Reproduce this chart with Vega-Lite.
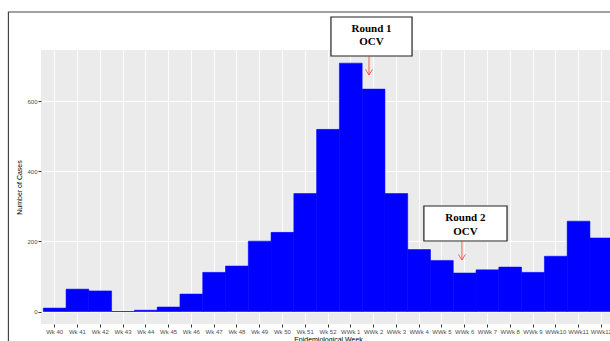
{
  "$schema": "https://vega.github.io/schema/vega-lite/v6.json",
  "autosize": "none",
  "width": 574,
  "height": 274,
  "padding": {"left": 41, "top": 50, "right": 0, "bottom": 20},
  "background": "white",
  "config": {
    "view": {"fill": "#EBEBEB", "stroke": null},
    "font": "Liberation Sans",
    "axis": {"domain": false, "labelFont": "Liberation Sans", "titleFont": "Liberation Sans", "labelColor": "#4D4D4D", "labelFontSize": 6, "titleFontSize": 7, "titleFontWeight": "normal", "titleColor": "#000000", "tickColor": "#333333", "tickSize": 3, "gridColor": "#FFFFFF"}
  },
  "datasets": {
    "weeks": [
      {"week": "Wk 40", "cases": 10},
      {"week": "Wk 41", "cases": 64},
      {"week": "Wk 42", "cases": 59},
      {"week": "Wk 43", "cases": 0},
      {"week": "Wk 44", "cases": 4},
      {"week": "Wk 45", "cases": 13},
      {"week": "Wk 46", "cases": 50},
      {"week": "Wk 47", "cases": 112},
      {"week": "Wk 48", "cases": 130},
      {"week": "Wk 49", "cases": 201},
      {"week": "Wk 50", "cases": 226},
      {"week": "Wk 51", "cases": 337},
      {"week": "Wk 52", "cases": 520},
      {"week": "WWk 1", "cases": 709},
      {"week": "WWk 2", "cases": 635},
      {"week": "WWk 3", "cases": 337},
      {"week": "WWk 4", "cases": 177},
      {"week": "WWk 5", "cases": 146},
      {"week": "WWk 6", "cases": 110},
      {"week": "WWk 7", "cases": 119},
      {"week": "WWk 8", "cases": 127},
      {"week": "WWk 9", "cases": 112},
      {"week": "WWk10", "cases": 158},
      {"week": "WWk11", "cases": 258},
      {"week": "WWk12", "cases": 210}
    ],
    "boxes": [
      {"round": "Round 1", "x1": 12.13, "x2": 15.69, "y1": 729.4, "y2": 840.7},
      {"round": "Round 2", "x1": 16.21, "x2": 19.86, "y1": 201.4, "y2": 301.3}
    ],
    "labels": [
      {"text": "Round 1", "x": 13.91, "y": 806.4},
      {"text": "OCV", "x": 13.91, "y": 769.3},
      {"text": "Round 2", "x": 18.03, "y": 267.0},
      {"text": "OCV", "x": 18.03, "y": 227.1}
    ],
    "arrows": [
      {"round": "Round 1", "x": 13.8, "y1": 729.4, "y2": 675.1},
      {"round": "Round 2", "x": 17.88, "y1": 201.4, "y2": 147.2}
    ],
    "frame": [
      {"x1": -2.03, "x2": 30, "y1": -300, "y2": 855}
    ]
  },
  "resolve": {"scale": {"x": "independent"}, "axis": {"x": "independent"}},
  "layer": [
    {
      "data": {"name": "weeks"},
      "mark": {"type": "bar", "fill": "#0000FF", "stroke": "#FFFFFF", "strokeWidth": 1.5},
      "encoding": {
        "x": {"field": "week", "type": "nominal", "sort": null,
              "scale": {"paddingInner": 0, "paddingOuter": 0.1},
              "axis": {"title": "Epidemiological Week", "labelAngle": 0, "labelPadding": 1, "titlePadding": 1, "grid": true, "gridWidth": 0.9, "bandPosition": 0.5}},
        "y": {"field": "cases", "type": "quantitative",
              "scale": {"domain": [-35.5, 746.5], "nice": false, "zero": false},
              "axis": {"title": "Number of Cases", "values": [0, 100, 200, 300, 400, 500, 600, 700],
                       "labelExpr": "datum.value % 200 === 0 ? datum.label : ''",
                       "gridWidth": {"condition": {"test": "datum.value % 200 === 0", "value": 1}, "value": 0.5},
                       "tickOpacity": {"condition": {"test": "datum.value % 200 === 0", "value": 1}, "value": 0},
                       "labelPadding": 1, "titlePadding": 4}}
      }
    },
    {
      "data": {"name": "weeks"},
      "mark": {"type": "bar", "fill": "#0000FF", "stroke": "#0000FF", "strokeWidth": 0.6},
      "encoding": {
        "x": {"field": "week", "type": "nominal", "sort": null,
              "scale": {"paddingInner": 0, "paddingOuter": 0.1}, "axis": null},
        "y": {"field": "cases", "type": "quantitative", "title": "Number of Cases"}
      }
    },
    {
      "data": {"name": "frame"},
      "mark": {"type": "rect", "fill": null, "fillOpacity": 0, "stroke": "#444444", "strokeWidth": 1.2},
      "encoding": {
        "x": {"field": "x1", "type": "quantitative", "scale": {"domain": [-0.6, 24.6], "nice": false, "zero": false}, "axis": null},
        "x2": {"field": "x2"},
        "y": {"field": "y1", "type": "quantitative", "title": "Number of Cases"},
        "y2": {"field": "y2"}
      }
    },
    {
      "data": {"name": "boxes"},
      "mark": {"type": "rect", "fill": "#FFFFFF", "stroke": "#222222", "strokeWidth": 1.2},
      "encoding": {
        "x": {"field": "x1", "type": "quantitative", "scale": {"domain": [-0.6, 24.6], "nice": false, "zero": false}, "axis": null},
        "x2": {"field": "x2"},
        "y": {"field": "y1", "type": "quantitative", "title": "Number of Cases"},
        "y2": {"field": "y2"}
      }
    },
    {
      "data": {"name": "labels"},
      "mark": {"type": "text", "font": "Liberation Serif", "fontWeight": "bold", "fontSize": 11, "color": "#000000", "baseline": "middle", "align": "center"},
      "encoding": {
        "x": {"field": "x", "type": "quantitative", "scale": {"domain": [-0.6, 24.6], "nice": false, "zero": false}, "axis": null},
        "y": {"field": "y", "type": "quantitative", "title": "Number of Cases"},
        "text": {"field": "text"}
      }
    },
    {
      "data": {"name": "arrows"},
      "mark": {"type": "rule", "color": "#FF3333", "strokeWidth": 0.8},
      "encoding": {
        "x": {"field": "x", "type": "quantitative", "scale": {"domain": [-0.6, 24.6], "nice": false, "zero": false}, "axis": null},
        "y": {"field": "y1", "type": "quantitative", "title": "Number of Cases"},
        "y2": {"field": "y2"}
      }
    },
    {
      "data": {"name": "arrows"},
      "mark": {"type": "point", "shape": "M-1,-1.6L0,0L1,-1.6", "filled": false, "stroke": "#FF3333", "strokeWidth": 0.8, "size": 49, "opacity": 1},
      "encoding": {
        "x": {"field": "x", "type": "quantitative", "scale": {"domain": [-0.6, 24.6], "nice": false, "zero": false}, "axis": null},
        "y": {"field": "y2", "type": "quantitative", "title": "Number of Cases"}
      }
    }
  ]
}
